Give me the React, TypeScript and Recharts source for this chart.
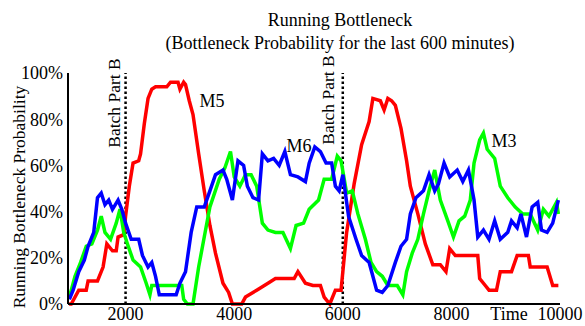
import React from 'react';
import { LineChart, Line, XAxis, YAxis, ReferenceLine } from 'recharts';

// values (time in minutes, probability in %)
const m5Time = [960, 1000, 1138, 1276, 1310, 1483, 1586, 1655, 1759, 1828, 1862, 1966, 2000, 2069, 2138, 2242, 2276, 2345, 2414, 2483, 2552, 2759, 2828, 2966, 3001, 3070, 3104, 3173, 3242, 3346, 3449, 3553, 3656, 3794, 3898, 3967, 4139, 4208, 4415, 4622, 4760, 5105, 5174, 5312, 5450, 5588, 5657, 5761, 5864, 5968, 6071, 6209, 6347, 6485, 6554, 6692, 6761, 6830, 6899, 6968, 7072, 7175, 7244, 7382, 7520, 7658, 7796, 7900, 7969, 8072, 8486, 8521, 8624, 8693, 8831, 8900, 9107, 9211, 9418, 9452, 9763, 9866, 9970];
const m5Prob = [0, 0, 6, 6, 10, 10, 16, 26, 23, 23, 29, 30, 38, 51, 61, 62, 65, 78, 89, 93, 94, 94, 96, 96, 93, 96, 95, 88, 82, 65, 49, 34, 22, 9, 5, 0, 0, 3, 6, 9, 11, 11, 14, 9, 8, 8, 3, 0, 6, 6, 31, 52, 69, 79, 89, 88, 84, 89, 88, 86, 76, 62, 51, 39, 26, 17, 17, 14, 24, 21, 21, 11, 8, 6, 6, 14, 14, 21, 21, 16, 16, 8, 8];

const m3Time = [965, 1069, 1172, 1276, 1379, 1483, 1552, 1621, 1724, 1828, 1897, 1966, 2035, 2138, 2276, 2380, 2449, 2483, 3035, 3070, 3139, 3242, 3346, 3449, 3553, 3725, 3829, 3932, 4001, 4105, 4208, 4312, 4415, 4519, 4622, 4760, 4898, 5036, 5140, 5278, 5381, 5554, 5657, 5795, 5899, 5968, 6071, 6175, 6278, 6416, 6520, 6623, 6727, 6830, 7003, 7106, 7175, 7279, 7382, 7486, 7589, 7693, 7796, 7934, 8038, 8141, 8245, 8348, 8417, 8521, 8590, 8659, 8797, 8900, 9038, 9176, 9314, 9452, 9590, 9694, 9797, 9935, 9970];
const m3Prob = [3, 12, 18, 25, 26, 32, 38, 31, 28, 35, 41, 31, 26, 19, 16, 9, 4, 8, 8, 2, 0, 0, 16, 29, 42, 54, 59, 66, 55, 51, 56, 56, 51, 35, 32, 31, 31, 24, 34, 35, 41, 45, 54, 54, 64, 62, 48, 49, 39, 28, 18, 14, 12, 8, 8, 4, 14, 22, 28, 39, 49, 58, 45, 36, 29, 36, 38, 45, 61, 71, 74, 67, 63, 51, 46, 42, 39, 39, 32, 41, 38, 44, 39];

const m6Time = [965, 1034, 1138, 1241, 1310, 1414, 1483, 1552, 1621, 1690, 1759, 1862, 1931, 2000, 2104, 2242, 2311, 2414, 2483, 2552, 2621, 2932, 3001, 3104, 3208, 3311, 3449, 3553, 3656, 3794, 3863, 3967, 4070, 4174, 4243, 4346, 4450, 4519, 4622, 4726, 4829, 4933, 5036, 5174, 5312, 5381, 5485, 5588, 5692, 5795, 5864, 5933, 6002, 6106, 6244, 6347, 6485, 6554, 6623, 6727, 6830, 6968, 7072, 7175, 7244, 7348, 7486, 7589, 7693, 7762, 7865, 7969, 8107, 8210, 8314, 8417, 8486, 8590, 8693, 8797, 8900, 9038, 9107, 9211, 9280, 9383, 9487, 9590, 9659, 9763, 9866, 9970];
const m6Prob = [2, 6, 14, 19, 25, 31, 46, 48, 43, 45, 41, 45, 41, 35, 28, 28, 21, 16, 18, 12, 4, 4, 9, 14, 31, 42, 42, 49, 56, 58, 54, 45, 62, 60, 51, 46, 45, 65, 62, 63, 60, 66, 56, 55, 53, 61, 68, 66, 61, 61, 51, 49, 56, 38, 28, 21, 18, 12, 6, 5, 8, 18, 25, 28, 39, 46, 49, 56, 49, 52, 61, 55, 58, 53, 58, 45, 29, 32, 28, 36, 28, 31, 36, 33, 39, 29, 42, 44, 32, 31, 35, 45];

const xTicks = [2000, 4000, 6000, 8000, 10000];
const yTicks = [0, 20, 40, 60, 80, 100];
const batchMarks = [2000, 6000];

const zip = (t: number[], v: number[]) => t.map((x, i) => ({ time: x, prob: v[i] }));
const m5Data = zip(m5Time, m5Prob);
const m3Data = zip(m3Time, m3Prob);
const m6Data = zip(m6Time, m6Prob);

const font = '"Liberation Serif", "Times New Roman", serif';

const Txt = ({ x, y, children, size = 18, rotate = false }: any) => (
  <div
    style={{
      position: 'absolute',
      left: x,
      top: y,
      transform: `translate(-50%, -50%)${rotate ? ' rotate(-90deg)' : ''}`,
      fontFamily: font,
      fontSize: size,
      lineHeight: 1,
      whiteSpace: 'nowrap',
      color: '#000',
    }}
  >
    {children}
  </div>
);

export default function App() {
  return (
    <div style={{ position: 'absolute', left: 0, top: 0, width: 585, height: 326, background: '#fff' }}>
      <LineChart width={585} height={326} margin={{ top: 73, right: 25, bottom: 2, left: 0 }}>
        <XAxis
          type="number"
          dataKey="time"
          domain={[940, 10000]}
          ticks={xTicks}
          allowDataOverflow
          tickSize={0}
          tickMargin={3}
          height={20}
          axisLine={{ stroke: '#000', strokeWidth: 2 }}
          tick={{ fill: '#000', fontSize: 18, fontFamily: font }}
        />
        <YAxis
          type="number"
          domain={[0, 100]}
          ticks={yTicks}
          width={68}
          tickSize={0}
          tickMargin={5}
          tickFormatter={(v) => `${v}%`}
          axisLine={{ stroke: '#000', strokeWidth: 2 }}
          tick={{ fill: '#000', fontSize: 18, fontFamily: font }}
        />
        {batchMarks.map((b) => (
          <ReferenceLine key={b} x={b} stroke="#000" strokeWidth={2.5} strokeDasharray="2.5 2.5" />
        ))}
        <Line data={m5Data} dataKey="prob" type="linear" stroke="#ff0000" strokeWidth={3.5} dot={false} isAnimationActive={false} />
        <Line data={m3Data} dataKey="prob" type="linear" stroke="#00ff00" strokeWidth={3.5} dot={false} isAnimationActive={false} />
        <Line data={m6Data} dataKey="prob" type="linear" stroke="#0000ff" strokeWidth={3.5} dot={false} isAnimationActive={false} />
      </LineChart>
      <Txt x={340} y={20}>Running Bottleneck</Txt>
      <Txt x={340} y={43}>(Bottleneck Probability for the last 600 minutes)</Txt>
      <Txt x={20} y={197} size={17.5} rotate>Running Bottleneck Probability</Txt>
      <Txt x={115} y={103} size={17.5} rotate>Batch Part B</Txt>
      <Txt x={329} y={100} size={17.5} rotate>Batch Part B</Txt>
      <Txt x={212} y={101}>M5</Txt>
      <Txt x={299} y={146}>M6</Txt>
      <Txt x={504} y={141}>M3</Txt>
      <Txt x={509} y={314}>Time</Txt>
    </div>
  );
}
